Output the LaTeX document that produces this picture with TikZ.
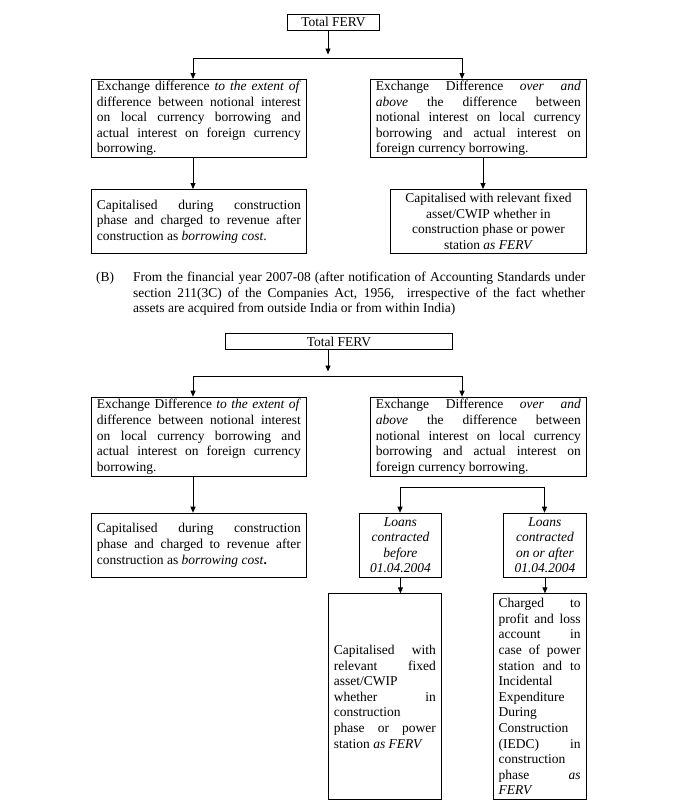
\documentclass[tikz,border=0pt]{standalone}
\usepackage{fontspec}
\setmainfont{Liberation Serif}
\usetikzlibrary{arrows.meta}
\newcommand\J[1]{\hbox to\hsize{\spaceskip=0.25em plus 5em\xspaceskip=0.25em plus 5em #1}}
\newcommand\Lf[1]{\hbox to\hsize{\spaceskip=0pt\xspaceskip=0pt #1\hfil}}
\newcommand\Cl[1]{\hbox to\hsize{\spaceskip=0pt\xspaceskip=0pt \hfil#1\hfil}}
\begin{document}
\begin{tikzpicture}[x=1pt,y=-1pt,
  txt/.style={font=\fontsize{13.5}{15.6}\selectfont},
  box/.style={txt, draw, line width=0.9pt, inner xsep=5.5pt, inner ysep=0pt, anchor=north west},
  tbox/.style={txt, draw, line width=0.9pt, inner sep=0pt, anchor=north west},
  arr/.style={-{Triangle[length=6pt,width=5pt]}, line width=0.9pt},
  ln/.style={line width=0.9pt}]
\useasboundingbox[fill=white] (0,0) rectangle (700,807);

% ---------- Part A ----------
\node[tbox, minimum width=92pt, minimum height=16pt] (tf1) at (287,13.5) {Total FERV};

\node[box, text width=204pt, minimum width=215pt, minimum height=78pt] (l1) at (91,79) {%
\J{Exchange difference \emph{to the extent of}}
\J{difference between notional interest}
\J{on local currency borrowing and}
\J{actual interest on foreign currency}
\Lf{borrowing.}};

\node[box, text width=205pt, minimum width=216pt, minimum height=78pt] (r1) at (370,79) {%
\J{Exchange Difference \emph{over and}}
\J{\emph{above} the difference between}
\J{notional interest on local currency}
\J{borrowing and actual interest on}
\Lf{foreign currency borrowing.}};

\node[box, text width=204pt, minimum width=215pt, minimum height=64pt] (lc1) at (91,189) {%
\J{Capitalised during construction}
\J{phase and charged to revenue after}
\Lf{construction as \emph{borrowing cost}.}};

\node[box, text width=185pt, minimum width=196pt, minimum height=64pt] (rc1) at (390,189) {%
\Cl{Capitalised with relevant fixed}
\Cl{asset/CWIP whether in}
\Cl{construction phase or power}
\Cl{station \emph{as FERV}}};

\coordinate (t1) at (328,54.5);
\coordinate (h1l) at (193,58.5);
\coordinate (h1r) at (462,58.5);
\coordinate (v1) at (483,0);
\draw[arr] (tf1.south -| t1) -- (t1);
\draw[arr] (h1r) -- (h1l) -- (h1l |- l1.north);
\draw[arr] (h1l) -- (h1r) -- (h1r |- r1.north);
\draw[arr] (l1.south -| h1l) -- (lc1.north -| h1l);
\draw[arr] (r1.south -| v1) -- (rc1.north -| v1);

% ---------- Paragraph B ----------
\node[txt, inner sep=0pt, anchor=base west] (blab) at (96,281.5) {(B)};
\node[txt, inner sep=0pt, anchor=base west, text width=452pt] (bpar) at (133,281.5) {%
\J{From the financial year 2007-08 (after notification of Accounting Standards under}
\J{section 211(3C) of the Companies Act, 1956, \ irrespective of the fact whether}
\Lf{assets are acquired from outside India or from within India)}};

% ---------- Part B ----------
\node[tbox, minimum width=227pt, minimum height=16pt] (tf2) at (225,333) {Total FERV};

\node[box, text width=204pt, minimum width=215pt, minimum height=79.3pt] (l2) at (91,396.7) {%
\J{Exchange Difference \emph{to the extent of}}
\J{difference between notional interest}
\J{on local currency borrowing and}
\J{actual interest on foreign currency}
\Lf{borrowing.}};

\node[box, text width=205pt, minimum width=216pt, minimum height=79.3pt] (r2) at (370,396.7) {%
\J{Exchange Difference \emph{over and}}
\J{\emph{above} the difference between}
\J{notional interest on local currency}
\J{borrowing and actual interest on}
\Lf{foreign currency borrowing.}};

\node[box, text width=204pt, minimum width=215pt, minimum height=64pt] (lc2) at (91,512.7) {%
\J{Capitalised during construction}
\J{phase and charged to revenue after}
\Lf{construction as \emph{borrowing cost}\textbf{.}}};

\node[box, text width=71pt, minimum width=82pt, minimum height=64pt] (la) at (359,512.7) {%
\Cl{\emph{Loans}}
\Cl{\emph{contracted}}
\Cl{\emph{before}}
\Cl{\emph{01.04.2004}}};

\node[box, text width=72pt, minimum width=83pt, minimum height=64pt] (lb) at (503,512.7) {%
\Cl{\emph{Loans}}
\Cl{\emph{contracted}}
\Cl{\emph{on or after}}
\Cl{\emph{01.04.2004}}};

\node[box, text width=102pt, minimum width=113pt, minimum height=206pt] (ba) at (328,593.3) {%
\J{Capitalised with}
\J{relevant fixed}
\Lf{asset/CWIP}
\J{whether in}
\Lf{construction}
\J{phase or power}
\Lf{station \emph{as FERV}}};

\node[box, text width=82pt, minimum width=93pt, minimum height=206pt] (bb) at (492.7,593.3) {%
\J{Charged to}
\J{profit and loss}
\J{account in}
\J{case of power}
\J{station and to}
\Lf{Incidental}
\Lf{Expenditure}
\Lf{During}
\Lf{Construction}
\J{(IEDC) in}
\Lf{construction}
\J{phase \emph{as}}
\Lf{\emph{FERV}}};

\coordinate (t2) at (328,371.5);
\coordinate (h2l) at (193,376);
\coordinate (h2r) at (462,376);
\draw[arr] (tf2.south -| t2) -- (t2);
\draw[arr] (h2r) -- (h2l) -- (h2l |- l2.north);
\draw[arr] (h2l) -- (h2r) -- (h2r |- r2.north);
\draw[arr] (l2.south -| h2l) -- (lc2.north -| h2l);

\coordinate (h3l) at (400,487);
\coordinate (h3r) at (544.5,487);
\draw[arr] (h3r) -- (h3l) -- (h3l |- la.north);
\draw[arr] (h3l) -- (h3r) -- (h3r |- lb.north);
\draw[arr] (la.south) -- (la.south |- ba.north);
\draw[arr] (lb.south) -- (lb.south |- bb.north);
\end{tikzpicture}
\end{document}
